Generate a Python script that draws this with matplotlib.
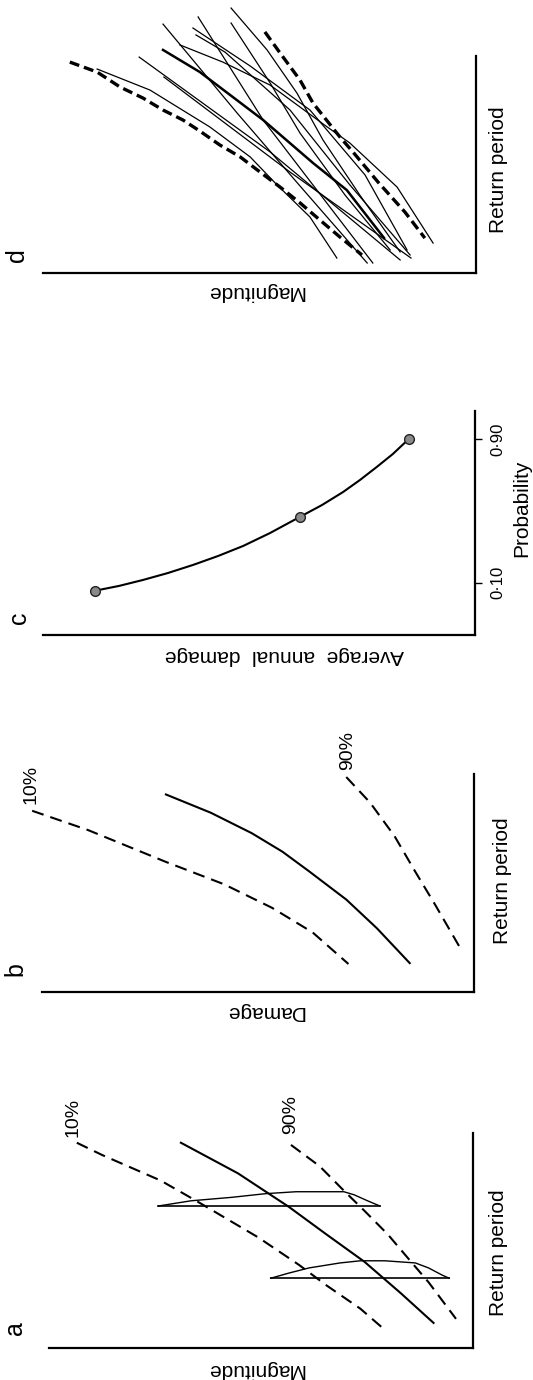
import matplotlib.pyplot as plt

plt.rcParams["font.family"] = ["Liberation Sans", "DejaVu Sans"]

# ---- panel a: magnitude vs return period, 10% / median / 90% curves ----
a_ten_ret = [95.3, 89.6, 77.8, 68.4, 51.4, 38.7, 29.2, 18.4, 9.4]
a_ten_mag = [93.5, 87.5, 73.7, 65.3, 50.6, 41.0, 34.5, 26.5, 21.2]
a_mid_ret = [95.3, 81.1, 65.6, 52.8, 40.1, 25.5, 11.8]
a_mid_mag = [68.9, 55.4, 43.4, 34.5, 25.5, 16.9, 9.2]
a_ninety_ret = [94.3, 84.4, 73.1, 63.7, 52.8, 40.1, 30.7, 13.7]
a_ninety_mag = [42.9, 36.1, 30.4, 25.5, 20.0, 14.5, 10.4, 3.9]
# distributions of magnitude at two return periods
a_hump1_mag = [74.2, 66.5, 56.9, 48.9, 41.7, 30.4, 28.0, 24.8, 21.9]
a_hump1_ret = [66.0, 68.4, 70.0, 71.7, 72.6, 72.6, 71.2, 68.4, 66.0]
a_hump2_mag = [47.7, 43.4, 38.6, 31.3, 26.5, 20.7, 13.5, 10.4, 7.2, 5.5]
a_hump2_ret = [32.5, 34.9, 37.3, 39.6, 40.6, 40.6, 39.6, 37.3, 34.0, 32.5]

# ---- panel b: damage vs return period ----
b_ten_ret = [83.1, 74.2, 59.6, 49.3, 38.5, 27.2, 12.7]
b_ten_dmg = [102.4, 89.4, 71.4, 57.9, 46.8, 37.4, 29.1]
b_mid_ret = [90.6, 82.2, 72.8, 64.3, 55.4, 42.3, 29.1, 13.1]
b_mid_dmg = [71.4, 61.0, 51.5, 44.4, 38.3, 29.6, 22.5, 14.9]
b_ninety_ret = [98.6, 86.9, 71.4, 55.4, 39.9, 19.7]
b_ninety_dmg = [29.6, 24.1, 18.4, 13.7, 9.0, 3.1]

# ---- panel c: average annual damage vs probability ----
c_prob_pts = [0.055, 0.467, 0.902]
c_dmg_pts = [87.9, 40.5, 15.3]
c_curve_prob = [0.055, 0.082, 0.115, 0.154, 0.199, 0.249, 0.305, 0.377,
                0.467, 0.533, 0.606, 0.673, 0.746, 0.818, 0.902]
c_curve_dmg = [87.9, 82.3, 76.8, 71.0, 65.2, 59.4, 53.6, 47.4,
               40.5, 35.4, 30.5, 26.6, 22.7, 19.0, 15.3]
c_ticks = [0.10, 0.90]
c_ticklabels = ["0\u00b710", "0\u00b790"]

# ---- panel d: many individual curves with envelope ----
d_env_lo_mag = [93.7, 87.4, 82.1, 76.8, 72.2, 67.6, 63.7, 59.1, 54.4, 49.8, 45.2, 40.6, 36.0, 31.4, 26.3]
d_env_lo_ret = [97.2, 92.6, 85.7, 80.6, 75.1, 70.5, 65.4, 59.0, 53.5, 46.5, 39.6, 32.3, 24.4, 16.6, 8.3]
d_env_hi_mag = [48.7, 45.2, 40.6, 37.6, 31.4, 28.4, 22.6, 16.4, 11.8]
d_env_hi_ret = [111.1, 101.4, 88.9, 78.3, 62.7, 55.8, 41.9, 28.1, 16.1]
d_heavy_mag = [72.2, 63.7, 49.1, 37.6, 29.8, 21.2]
d_heavy_ret = [102.8, 92.6, 70.5, 50.7, 38.2, 16.1]
d_lines = [
    ([87.4, 75.2, 61.4, 52.1, 45.9, 38.3, 32.1], [94.0, 84.3, 67.3, 53.5, 40.6, 25.8, 6.9]),
    ([77.7, 47.5, 17.5], [99.5, 55.8, 6.0]),
    ([72.0, 42.9, 15.0], [90.3, 46.5, 6.9]),
    ([72.2, 55.1, 40.6, 25.1], [114.7, 73.7, 40.1, 4.6]),
    ([64.1, 49.1, 23.8], [118.0, 70.5, 4.6]),
    ([65.3, 52.1, 38.3, 25.6, 15.9], [112.9, 95.4, 75.1, 45.2, 10.6]),
    ([64.6, 57.9, 42.9, 29.1, 15.2], [109.7, 101.8, 75.1, 40.6, 8.3]),
    ([56.5, 48.2, 41.3, 35.3, 26.8, 17.5], [122.1, 102.8, 82.9, 61.3, 35.9, 9.7]),
    ([56.5, 47.5, 40.6, 30.2, 19.8], [115.2, 87.6, 64.5, 35.9, 10.6]),
    ([68.3, 58.4, 47.5, 34.6, 29.1, 18.2, 9.9], [105.1, 97.2, 86.6, 67.7, 59.9, 39.6, 13.8]),
]

W, H = 533, 1380
fig = plt.figure(figsize=(W / 100, H / 100), dpi=100)


def px_axes(left, top, right, bottom):
    # axes placed from pixel box in the rotated page
    ax = fig.add_axes([left / W, 1 - bottom / H, (right - left) / W, (bottom - top) / H])
    ax.set_xlim(100, 0)
    ax.set_ylim(0, 100)
    for side in ["top", "left"]:
        ax.spines[side].set_visible(False)
    for side in ["bottom", "right"]:
        ax.spines[side].set_linewidth(1.6)
    ax.set_xticks([])
    ax.set_yticks([])
    ax.patch.set_alpha(0)
    return ax


def ftext(x, y, s, rot, size=15, **kw):
    fig.text(x / W, 1 - y / H, s, rotation=rot, ha="center", va="center",
             fontsize=size, **kw)


dash = dict(color="black", lw=1.5, dashes=(5.8, 3.4), clip_on=False)
solid = dict(color="black", lw=1.5, clip_on=False, solid_joinstyle="round")

# panel a
ax = px_axes(49.3, 1132.6, 472.5, 1348.4)
ax.plot(a_ten_mag, a_ten_ret, **dash)
ax.plot(a_mid_mag, a_mid_ret, **solid)
ax.plot(a_ninety_mag, a_ninety_ret, **dash)
for hm, hr in [(a_hump1_mag, a_hump1_ret), (a_hump2_mag, a_hump2_ret)]:
    ax.plot(hm, hr, color="black", lw=1.0)
    ax.plot([hm[0], hm[-1]], [hr[0], hr[-1]], color="black", lw=1.2)
ftext(255, 1369, "Magnitude", 180)
ftext(498, 1253, "Return period", 90)
ftext(15, 1328, "a", 90, size=18)
ftext(73, 1117, "10%", 90, size=14)
ftext(291, 1114, "90%", 90, size=14)

# panel b
ax = px_axes(42.5, 774, 474, 991.6)
ax.plot(b_ten_dmg, b_ten_ret, **dash)
ax.plot(b_mid_dmg, b_mid_ret, **solid)
ax.plot(b_ninety_dmg, b_ninety_ret, **dash)
ftext(265, 1011, "Damage", 180)
ftext(503, 881, "Return period", 90)
ftext(15, 969, "b", 90, size=18)
ftext(31, 784, "10%", 90, size=14)
ftext(348, 750, "90%", 90, size=14)

# panel c
ax = px_axes(42.5, 411, 475, 635.2)
ax.set_ylim(-0.193, 1.058)
ax.plot(c_curve_dmg, c_curve_prob, **solid)
ax.plot(c_dmg_pts, c_prob_pts, ls="none", marker="o", ms=7,
        mfc="#8a8a8a", mec="#222222", mew=1.0)
ax.yaxis.tick_right()
ax.set_yticks(c_ticks)
ax.set_yticklabels(c_ticklabels, rotation=90, va="center", fontsize=12)
ax.tick_params(axis="y", direction="out", length=5, width=1.0, pad=6)
ftext(284, 655, "Average  annual  damage", 180)
ftext(522, 508, "Probability", 90)
ftext(19, 618, "c", 90, size=18)

# panel d
ax = px_axes(42.5, 56, 476, 273)
for lm, lr in d_lines:
    ax.plot(lm, lr, color="black", lw=0.9, clip_on=False, solid_joinstyle="round")
ax.plot(d_heavy_mag, d_heavy_ret, color="black", lw=1.8, clip_on=False)
ax.plot(d_env_lo_mag, d_env_lo_ret, color="black", lw=2.4, dashes=(3.0, 1.5), clip_on=False)
ax.plot(d_env_hi_mag, d_env_hi_ret, color="black", lw=2.4, dashes=(3.0, 1.5), clip_on=False)
ftext(255, 292, "Magnitude", 180)
ftext(498, 170, "Return period", 90)
ftext(17, 255, "d", 90, size=18)

fig.savefig("out.png", dpi=100)
